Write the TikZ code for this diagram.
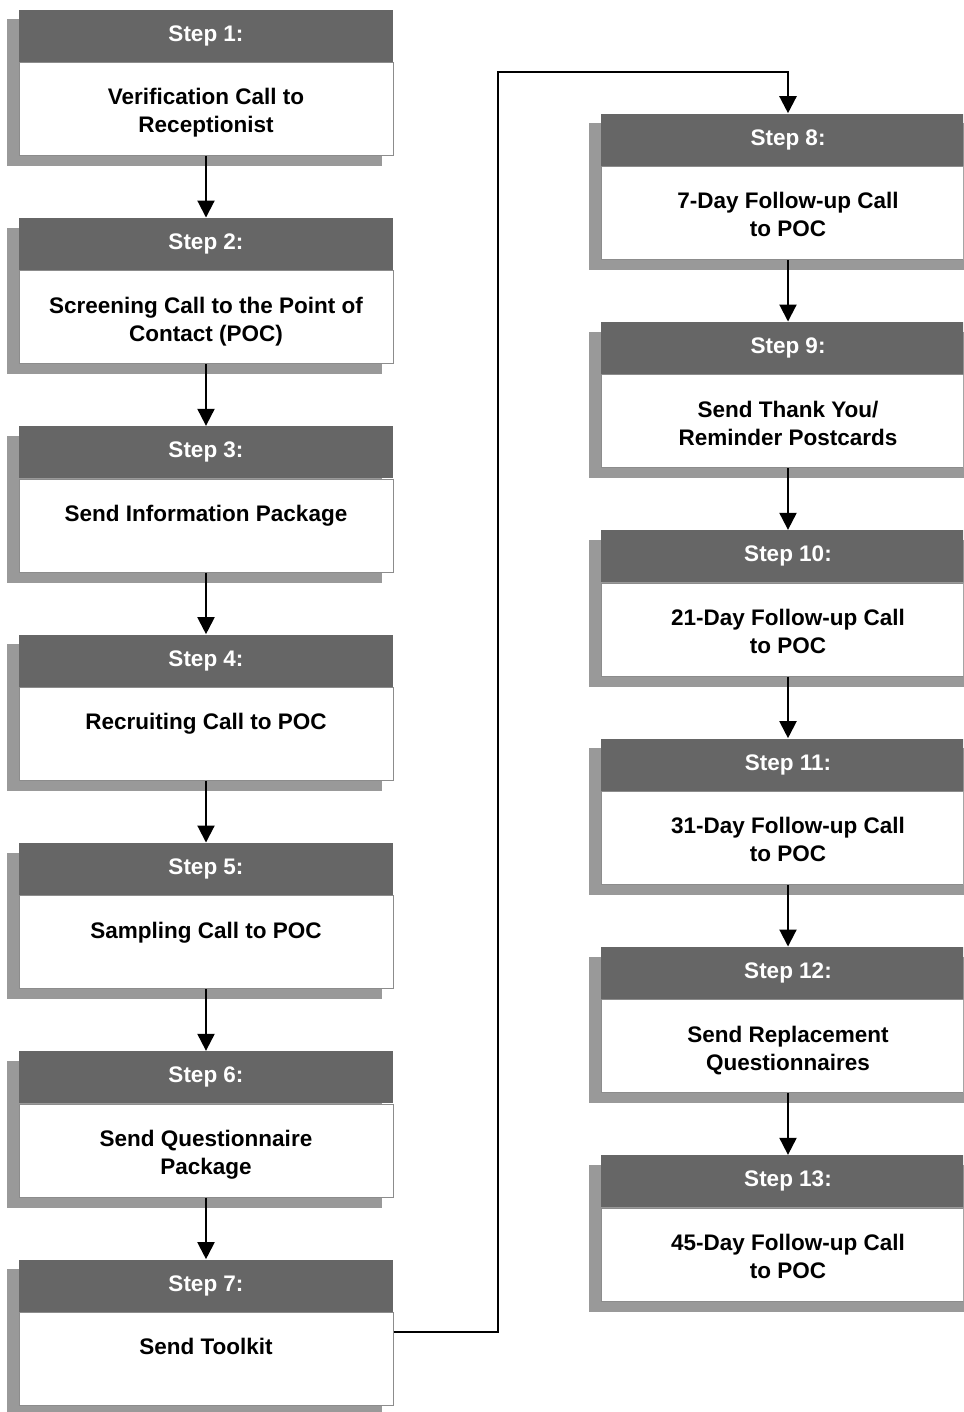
\documentclass[tikz,border=0pt]{standalone}
\usepackage{fontspec}
\setmainfont{Liberation Sans}
\usetikzlibrary{positioning,backgrounds,arrows.meta}

\definecolor{headgray}{HTML}{666666}
\definecolor{shadegray}{HTML}{999999}
\definecolor{linegray}{HTML}{8C8C8C}

\tikzset{
  stephead/.style={fill=headgray, text=white, font=\fontsize{11.25}{14}\selectfont\bfseries,
    minimum width=187pt, minimum height=26pt, inner sep=0pt, anchor=south},
  stepbody/.style={fill=white, draw=linegray, line width=0.5pt,
    minimum width=187pt, minimum height=46.5pt, inner sep=0pt, anchor=north},
  steptext/.style={font=\fontsize{11.25}{14}\selectfont\bfseries, align=center, anchor=north, inner sep=0pt},
  shade/.style={fill=shadegray},
  flow/.style={-{Triangle[length=8.5pt,width=8.5pt]}, line width=1pt},
}

\begin{document}
\begin{tikzpicture}[x=0.5pt,y=-0.5pt]
\useasboundingbox (0,0) rectangle (963,1412);
\clip (0,0) rectangle (963,1412);

% left column
\foreach \n/\txt in {1/{Verification Call to\\Receptionist},
                     2/{Screening Call to the Point of\\Contact (POC)},
                     3/{Send Information Package},
                     4/{Recruiting Call to POC},
                     5/{Sampling Call to POC},
                     6/{Send Questionnaire\\Package},
                     7/{Send Toolkit}} {
  \pgfmathsetmacro\top{62+208.33*(\n-1)}
  \node[stepbody] (b\n) at (206,\top) {};
  \node[stephead] (h\n) at (b\n.north) {Step \n:};
  \node[steptext] (t\n) at ([yshift=-13pt]b\n.north) {\txt};
}

% right column
\foreach \n/\txt in {8/{7-Day Follow-up Call\\to POC},
                     9/{Send Thank You/\\Reminder Postcards},
                     10/{21-Day Follow-up Call\\to POC},
                     11/{31-Day Follow-up Call\\to POC},
                     12/{Send Replacement\\Questionnaires},
                     13/{45-Day Follow-up Call\\to POC}} {
  \pgfmathsetmacro\top{166+208.33*(\n-8)}
  \node[stepbody] (b\n) at (788,\top) {};
  \node[stephead] (h\n) at (b\n.north) {Step \n:};
  \node[steptext] (t\n) at ([yshift=-13pt]b\n.north) {\txt};
}

% shadows
\begin{scope}[on background layer]
  \foreach \n in {1,...,13}
    \fill[shade] ([xshift=-6pt,yshift=-5pt]h\n.north west) rectangle ([xshift=-6pt,yshift=-5pt]b\n.south east);
\end{scope}

\foreach \a/\b in {1/2,2/3,3/4,4/5,5/6,6/7,8/9,9/10,10/11,11/12,12/13}
  \draw[flow] (b\a) -- (h\b);

\coordinate (bend) at (498,72);
\draw[flow, line width=1.2pt] ([yshift=-10pt]b7.north east) -| (bend) -| (h8);
\end{tikzpicture}
\end{document}
